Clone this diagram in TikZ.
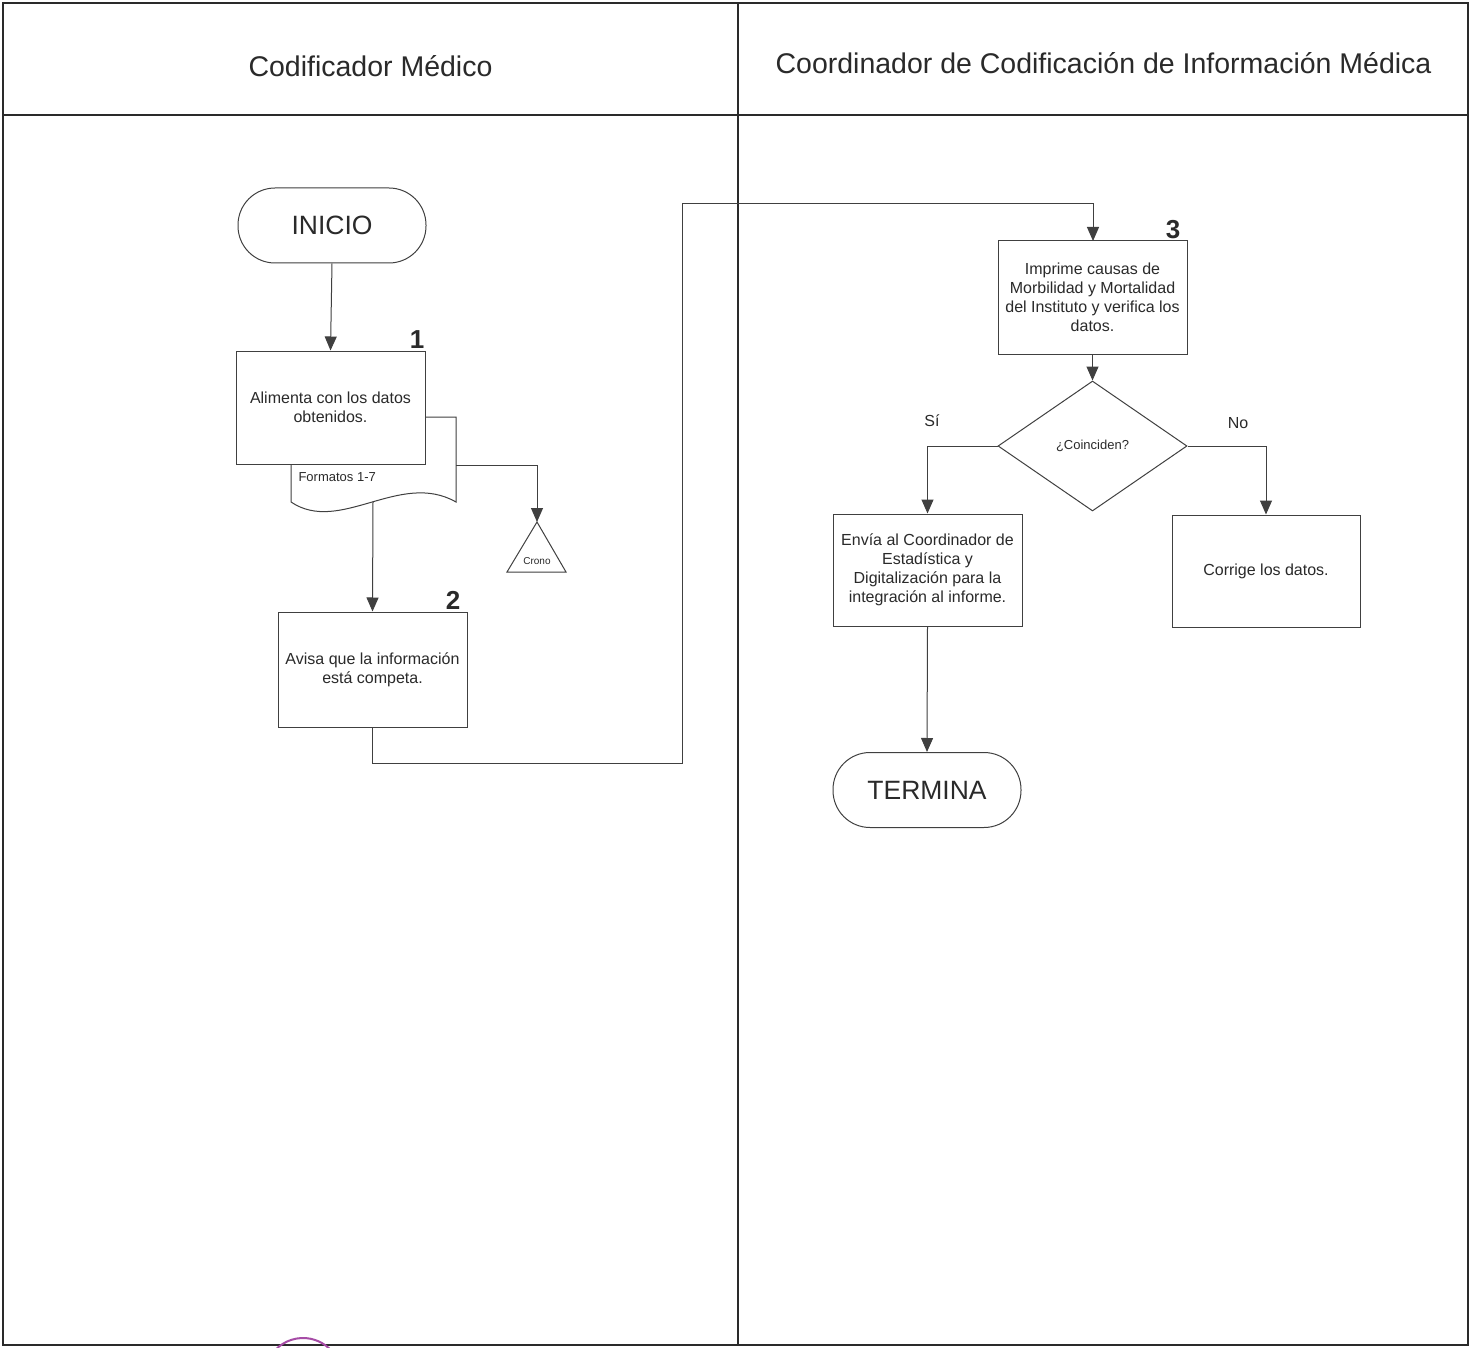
\documentclass[tikz,border=0pt]{standalone}
\usepackage{fontspec}
\setmainfont{Liberation Sans}
\usetikzlibrary{shapes.geometric,arrows.meta}
\definecolor{ink}{HTML}{2A2A2A}
\definecolor{ln}{HTML}{404040}
\begin{document}
\begin{tikzpicture}[x=1pt,y=-1pt,
  frame/.style={line width=2.2pt, draw=ink},
  flow/.style={line width=1pt, draw=ln},
  arr/.style={flow, -{Triangle[width=12pt,length=14pt]}, color=ln},
  proc/.style={draw=ln, line width=1pt, fill=white, align=center, text=ink,
    minimum width=189pt, minimum height=113pt, inner sep=0pt,
    font=\fontsize{16}{19}\selectfont},
  term/.style={draw=ln, line width=1pt, fill=white, text=ink, rounded corners=37pt,
    minimum width=188pt, minimum height=75pt, inner sep=0pt,
    font=\fontsize{26.5}{30}\selectfont},
  hdr/.style={text=ink, font=\fontsize{28.5}{32}\selectfont},
  num/.style={text=ink, font=\bfseries\fontsize{26}{28}\selectfont},
  lbl/.style={text=ink, font=\fontsize{16}{19}\selectfont},
]
\useasboundingbox (0,0) rectangle (1478,1348);
\fill[white] (0,0) rectangle (1478,1348);

% frame
\draw[frame] (3,3) rectangle (1468,1345);
\draw[frame] (3,115) -- (1468,115);
\draw[frame] (738,3) -- (738,1345);
\node[hdr] (h1) at (370.5,66) {Codificador Médico};
\node[hdr] (h2) at (1103.5,63) {Coordinador de Codificación de Información Médica};

% left lane
\node[term] (inicio) at (332,225.5) {INICIO};

% document (behind box 1)
\draw[flow, fill=white] (291,417) -- (456,417) -- (456,502)
   .. controls (400,470) and (340,535) .. (291,502) -- cycle;
\node[text=ink, font=\fontsize{13}{15}\selectfont, anchor=west] (fmt) at (295,477) {Formatos 1-7};
\coordinate (docbot) at (373,502);
\coordinate (docright) at (456,465);

\node[proc] (b1) at (330.5,407.5) {Alimenta con los datos\\obtenidos.};
\node[num] (n1) at (417,340) {1};

% crono
\coordinate (cronotop) at (537,522);
\draw[flow, fill=white] (537,522) -- (566,572) -- (507,572) -- cycle;
\node[text=ink, font=\fontsize{10}{12}\selectfont] (crono) at (537,561) {Crono};

\node[proc, minimum height=115pt] (b2) at (372.5,669.5) {Avisa que la información\\está competa.};
\node[num] (n2) at (453,600) {2};

% right lane
\node[proc] (b3) at (1092.5,297.5) {Imprime causas de\\Morbilidad y Mortalidad\\del Instituto y verifica los\\datos.};
\node[num] (n3) at (1173,230) {3};

\node[diamond, draw=ln, line width=1pt, fill=white, minimum width=189pt, minimum height=130pt,
      inner sep=0pt, text=ink, font=\fontsize{13}{15}\selectfont] (dia) at (1092.5,446) {¿Coinciden?};
\node[lbl] (si) at (932,421) {Sí};
\node[lbl] (no) at (1238,423) {No};

\node[proc, minimum height=112pt] (env) at (927.5,570) {Envía al Coordinador de\\Estadística y\\Digitalización para la\\integración al informe.};
\node[proc, minimum width=188pt, minimum height=112pt] (cor) at (1266,571) {Corrige los datos.};

\node[term] (fin) at (927,790) {TERMINA};

% connectors
\draw[arr] (inicio.south) -- (b1.north);
\draw[arr] (docbot) -- (b2.north);
\draw[arr] (docright) -- (537,465) -- (cronotop);
\draw[arr] (b2.south) -- (372.5,763) -- (682,763) -- (682,204) -- (1093,204) -- (1093,241);
\draw[arr] (b3.south) -- (dia.north);
\draw[arr] (dia.west) -| (env.north);
\draw[arr] (dia.east) -| (cor.north);
\draw[arr] (env.south) -- (fin.north);

% stamp fragment
\draw[line width=2pt, color=violet!70] (303,1376) ++(215:38) arc (215:325:38);
\end{tikzpicture}
\end{document}
